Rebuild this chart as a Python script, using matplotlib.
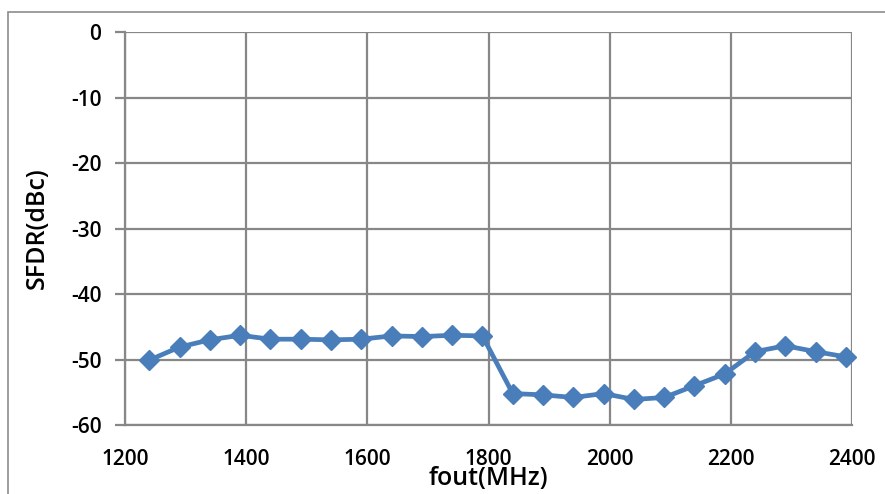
import matplotlib
matplotlib.use("Agg")
import matplotlib.pyplot as plt
from matplotlib.patches import Rectangle

freq_mhz = [1240, 1290, 1340, 1390, 1440, 1490, 1540, 1590, 1640, 1690, 1740, 1790,
            1840, 1890, 1940, 1990, 2040, 2090, 2140, 2190, 2240, 2290, 2340, 2390]
sfdr_dbc = [-50.1, -48.1, -47.0, -46.3, -46.9, -46.9, -47.0, -46.9, -46.4, -46.5, -46.3, -46.4,
            -55.2, -55.4, -55.8, -55.2, -56.1, -55.8, -54.0, -52.2, -48.8, -47.9, -48.8, -49.6]
x_ticks = [1200, 1400, 1600, 1800, 2000, 2200, 2400]
y_ticks = [0, -10, -20, -30, -40, -50, -60]

plt.rcParams['font.family'] = ['Open Sans', 'DejaVu Sans']

fig = plt.figure(figsize=(8.85, 4.94), dpi=100)
ax = fig.add_axes([125/885, 1-425/494, (852-125)/885, (425-32)/494])

grid_c = '#878787'
ax.plot(freq_mhz, sfdr_dbc, color='#4a7ebb', linewidth=3.4, marker='D',
        markersize=10.5, markeredgecolor='#4a7ebb', zorder=3, clip_on=False)

ax.set_xlim(1200, 2400)
ax.set_ylim(-60, 0)
ax.set_xticks(x_ticks)
ax.set_yticks(y_ticks)
ax.set_xticklabels([str(v) for v in x_ticks], fontsize=15, fontweight='semibold')
ax.set_yticklabels([str(v) for v in y_ticks], fontsize=15, fontweight='semibold')
ax.grid(True, color=grid_c, linewidth=1.6)
ax.set_axisbelow(True)
for s in ['top', 'right']:
    ax.spines[s].set_visible(False)
for s in ['left', 'bottom']:
    ax.spines[s].set_color(grid_c)
    ax.spines[s].set_linewidth(1.6)
ax.tick_params(axis='y', length=7, width=1.6, color=grid_c, pad=10)
ax.tick_params(axis='x', length=0, pad=17)

ax.set_ylabel('SFDR(dBc)', fontsize=18, fontweight='semibold')
ax.set_xlabel('fout(MHz)', fontsize=18, fontweight='semibold')
ax.xaxis.set_label_coords(0.5, -0.105)
ax.yaxis.set_label_coords(-0.103, 0.5)

fig.patches.append(Rectangle((8/885, -0.05), 1.1, 1-12/494+0.05,
                             transform=fig.transFigure, fill=False,
                             edgecolor='#8c8c8c', linewidth=1.2))

fig.savefig('out.png', dpi=100)
